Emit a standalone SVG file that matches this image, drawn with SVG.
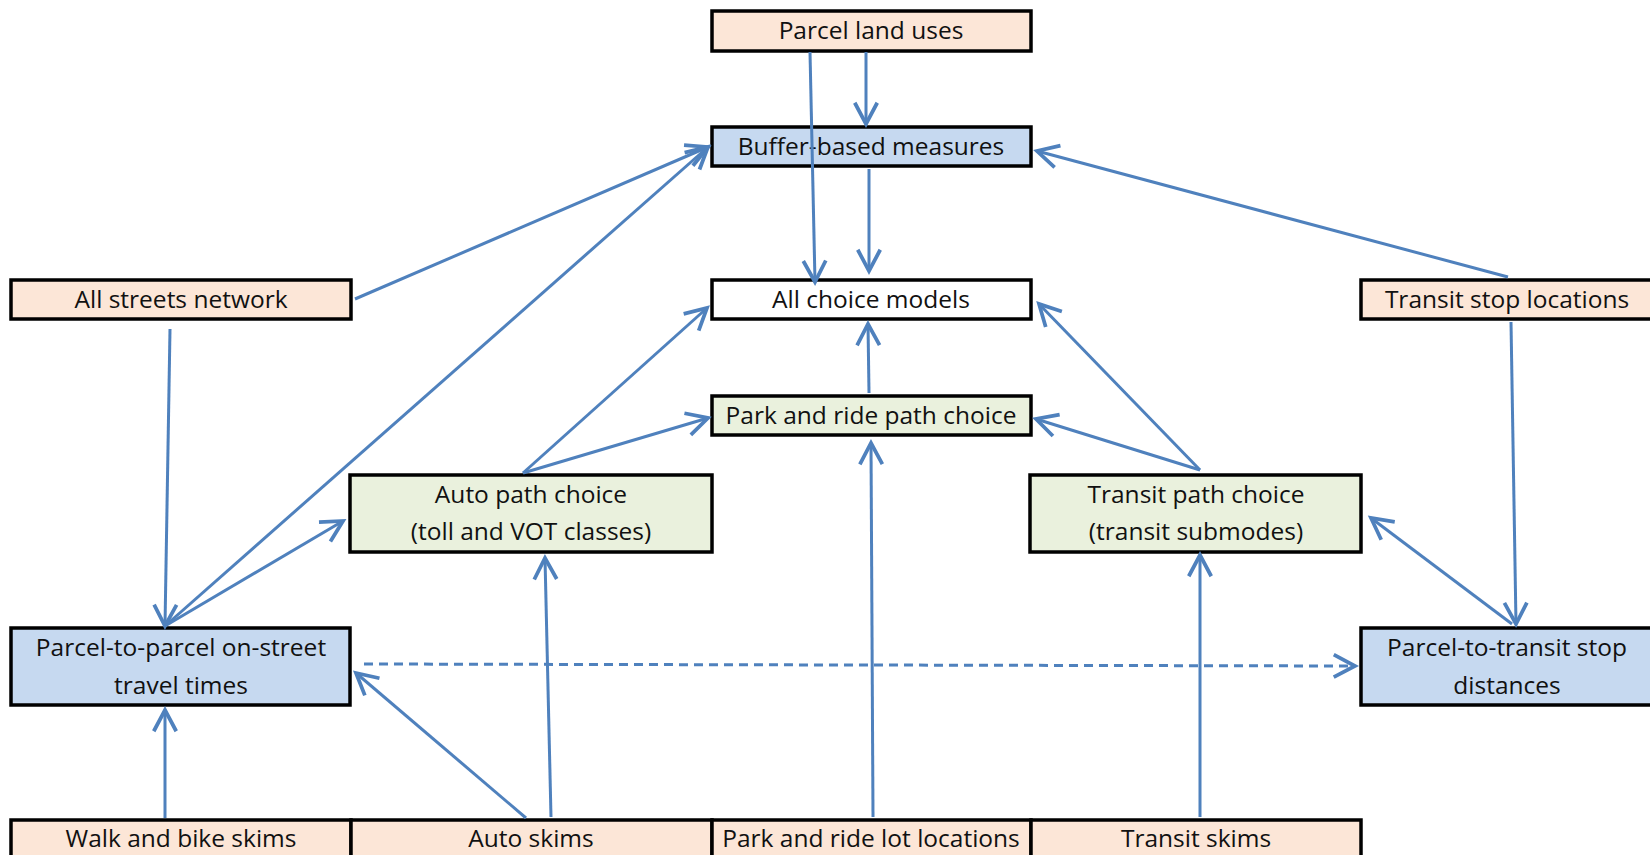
<svg xmlns="http://www.w3.org/2000/svg" width="1650" height="855" viewBox="0 0 1650 855">
<style>
.box{stroke:#000;stroke-width:3.5}
.in{fill:#FCE6D7}
.mid{fill:#C6D9F0}
.pc{fill:#EAF1DD}
.wh{fill:#fff}
text{font-family:"Open Sans","Liberation Sans",sans-serif;font-size:24.5px;fill:#111;text-anchor:middle;dominant-baseline:central}
.c{stroke:#4F81BD;stroke-width:3;fill:none;marker-end:url(#a)}
.d{stroke-dasharray:9,6}
</style>
<defs>
<marker id="a" markerUnits="userSpaceOnUse" markerWidth="30" markerHeight="30" viewBox="-20 -12 24 24" refX="0" refY="0" orient="auto">
<path d="M-17,-9 L0,0 L-17,9" fill="none" stroke="#4F81BD" stroke-width="3"/>
</marker>
</defs>
<g id="n-parcel-land"><rect class="box in" x="712" y="11" width="319" height="40"/><text x="871" y="29.5">Parcel land uses</text></g>
<g id="n-buffer"><rect class="box mid" x="712" y="127" width="319" height="39"/><text x="871" y="145.5">Buffer-based measures</text></g>
<g id="n-streets"><rect class="box in" x="11" y="280" width="340" height="39"/><text x="181" y="298.5">All streets network</text></g>
<g id="n-allchoice"><rect class="box wh" x="712" y="280" width="319" height="39"/><text x="871" y="298.5">All choice models</text></g>
<g id="n-stops"><rect class="box in" x="1361" y="280" width="295" height="39"/><text x="1507" y="298.5">Transit stop locations</text></g>
<g id="n-pnrpath"><rect class="box pc" x="712" y="396" width="319" height="39"/><text x="871" y="414.5">Park and ride path choice</text></g>
<g id="n-autopath"><rect class="box pc" x="350" y="475" width="362" height="77"/><text x="531" y="493.5">Auto path choice</text><text x="531" y="530.5">(toll and VOT classes)</text></g>
<g id="n-transitpath"><rect class="box pc" x="1030" y="475" width="331" height="77"/><text x="1196" y="493.5">Transit path choice</text><text x="1196" y="530.5">(transit submodes)</text></g>
<g id="n-p2p"><rect class="box mid" x="11" y="628" width="339" height="77"/><text x="181" y="646.5">Parcel-to-parcel on-street</text><text x="181" y="684.5">travel times</text></g>
<g id="n-p2t"><rect class="box mid" x="1361" y="628" width="295" height="77"/><text x="1507" y="646.5">Parcel-to-transit stop</text><text x="1507" y="684.5">distances</text></g>
<g id="n-walk"><rect class="box in" x="11" y="820" width="340" height="50"/><text x="181" y="837">Walk and bike skims</text></g>
<g id="n-autoskims"><rect class="box in" x="351" y="820" width="361" height="50"/><text x="531" y="837">Auto skims</text></g>
<g id="n-pnrlots"><rect class="box in" x="712" y="820" width="319" height="50"/><text x="871" y="837">Park and ride lot locations</text></g>
<g id="n-transitskims"><rect class="box in" x="1031" y="820" width="330" height="50"/><text x="1196" y="837">Transit skims</text></g>
<g id="connectors">
<line class="c" x1="866" y1="52" x2="866" y2="124"/>
<line class="c" x1="810" y1="52" x2="815" y2="282"/>
<line class="c" x1="869" y1="169" x2="869" y2="271"/>
<line class="c" x1="355" y1="299" x2="708" y2="147"/>
<line class="c" x1="165" y1="626" x2="708" y2="147"/>
<line class="c" x1="170" y1="329" x2="165" y2="626"/>
<line class="c" x1="165" y1="626" x2="343" y2="521"/>
<line class="c" x1="523" y1="473" x2="707" y2="308"/>
<line class="c" x1="523" y1="473" x2="708" y2="418"/>
<line class="c" x1="869" y1="393" x2="868" y2="324"/>
<line class="c" x1="1200" y1="470" x2="1036" y2="419"/>
<line class="c" x1="1200" y1="470" x2="1039" y2="304"/>
<line class="c" x1="1508" y1="277" x2="1037" y2="151"/>
<line class="c" x1="1511" y1="322" x2="1516" y2="624"/>
<line class="c" x1="1512" y1="624" x2="1371" y2="518"/>
<line class="c d" x1="364" y1="664" x2="1355" y2="666"/>
<line class="c" x1="165" y1="818" x2="165" y2="710"/>
<line class="c" x1="526" y1="818" x2="356" y2="673"/>
<line class="c" x1="551" y1="817" x2="545" y2="558"/>
<line class="c" x1="873" y1="817" x2="871" y2="443"/>
<line class="c" x1="1200" y1="817" x2="1200" y2="555"/>
</g>
</svg>
